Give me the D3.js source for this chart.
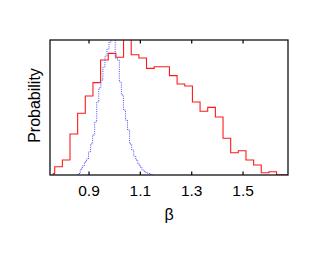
<!DOCTYPE html>
<html>
<head>
<meta charset="utf-8">
<script src="https://cdn.jsdelivr.net/npm/d3@7"></script>
<style>
html,body{margin:0;padding:0;background:#fff;}
svg{display:block;}
text{font-family:"Liberation Sans",Arial,Helvetica,sans-serif;fill:#000;}
</style>
</head>
<body>
<svg id="chart" width="327" height="253"></svg>
<script>
// ---- data ----
const xDomain = [0.75, 1.677];
const yDomain = [0, 1];
const xTicks = [0.9, 1.1, 1.3, 1.5];
const xTickLabels = ["0.9", "1.1", "1.3", "1.5"];
const xLabel = "\u03b2";
const yLabel = "Probability";

// red histogram (broad)
const redLeadStart = 0.7629;
const redLeadValue = 0.01;
const redStart = 0.7683;
const redWidth = 0.0298;
const redValues = [0.061, 0.111, 0.304, 0.457, 0.585, 0.684, 0.852, 0.901, 0.872, 1.05,
  0.891, 0.867, 0.790, 0.802, 0.802, 0.736, 0.674, 0.659, 0.541, 0.472,
  0.501, 0.430, 0.272, 0.165, 0.180, 0.111, 0.074, 0.017, 0.024, 0.002, 0.002];

// blue histogram (narrow, dotted)
const blueStart = 0.860;
const blueWidth = 0.008;
const blueValues = [0.011, 0.044, 0.067, 0.096, 0.119, 0.170, 0.230, 0.296, 0.393, 0.541,
  0.644, 0.704, 0.800, 0.881, 0.933, 0.985, 1.03, 1.08, 0.867, 0.852,
  0.689, 0.593, 0.481, 0.407, 0.333, 0.230, 0.185, 0.141, 0.111, 0.081,
  0.059, 0.037, 0.026, 0.015, 0.011, 0.005, 0.0];

// ---- layout ----
const L = 50, R = 288, T = 40, B = 175;
const svg = d3.select("#chart");
const x = d3.scaleLinear().domain(xDomain).range([L, R]);
const y = d3.scaleLinear().domain(yDomain).range([B, T]);

svg.append("defs").append("clipPath").attr("id", "clip")
  .append("rect").attr("x", L).attr("y", T).attr("width", R - L).attr("height", B - T);

function stepPoints(start, width, values, lead) {
  const pts = [];
  if (lead) {
    pts.push([lead[0], 0], [lead[0], lead[1]], [start, lead[1]]);
  } else {
    pts.push([start, 0]);
  }
  values.forEach((v, i) => {
    pts.push([start + i * width, v]);
    pts.push([start + (i + 1) * width, v]);
  });
  pts.push([start + values.length * width, 0]);
  return pts;
}

const line = d3.line().x(d => x(d[0])).y(d => y(d[1]));
const g = svg.append("g").attr("clip-path", "url(#clip)");

g.append("path")
  .attr("d", line(stepPoints(redStart, redWidth, redValues, [redLeadStart, redLeadValue])))
  .attr("fill", "none").attr("stroke", "#ff1a1a").attr("stroke-width", 1.1);

g.append("path")
  .attr("d", line(stepPoints(blueStart, blueWidth, blueValues)))
  .attr("fill", "none").attr("stroke", "#4646ff").attr("stroke-width", 1)
  .attr("stroke-dasharray", "1,1.2");

// frame
svg.append("rect").attr("x", L).attr("y", T).attr("width", R - L).attr("height", B - T)
  .attr("fill", "none").attr("stroke", "#111").attr("stroke-width", 1.3);

// bottom axis (inward ticks)
const bottomAxis = svg.append("g").attr("transform", `translate(0,${B})`)
  .call(d3.axisBottom(x).tickValues(xTicks).tickFormat((d, i) => xTickLabels[i])
    .tickSizeInner(-3.5).tickSizeOuter(0).tickPadding(10));
bottomAxis.select(".domain").remove();
bottomAxis.selectAll("line").attr("stroke", "#111").attr("stroke-width", 1.3);
bottomAxis.selectAll("text").attr("font-size", "15.5px")
  .attr("font-family", "'Liberation Sans',Arial,sans-serif").attr("fill", "#000");

// top axis ticks
const topAxis = svg.append("g").attr("transform", `translate(0,${T})`)
  .call(d3.axisTop(x).tickValues(xTicks).tickFormat("").tickSizeInner(-3.5).tickSizeOuter(0));
topAxis.select(".domain").remove();
topAxis.selectAll("line").attr("stroke", "#111").attr("stroke-width", 1.3);

// labels
svg.append("text").attr("x", (L + R) / 2).attr("y", 219.5)
  .attr("text-anchor", "middle").attr("font-size", "16px").text(xLabel);
svg.append("text").attr("transform", `translate(40,${(T + B) / 2 - 2}) rotate(-90)`)
  .attr("text-anchor", "middle").attr("font-size", "16px").text(yLabel);
</script>
</body>
</html>
